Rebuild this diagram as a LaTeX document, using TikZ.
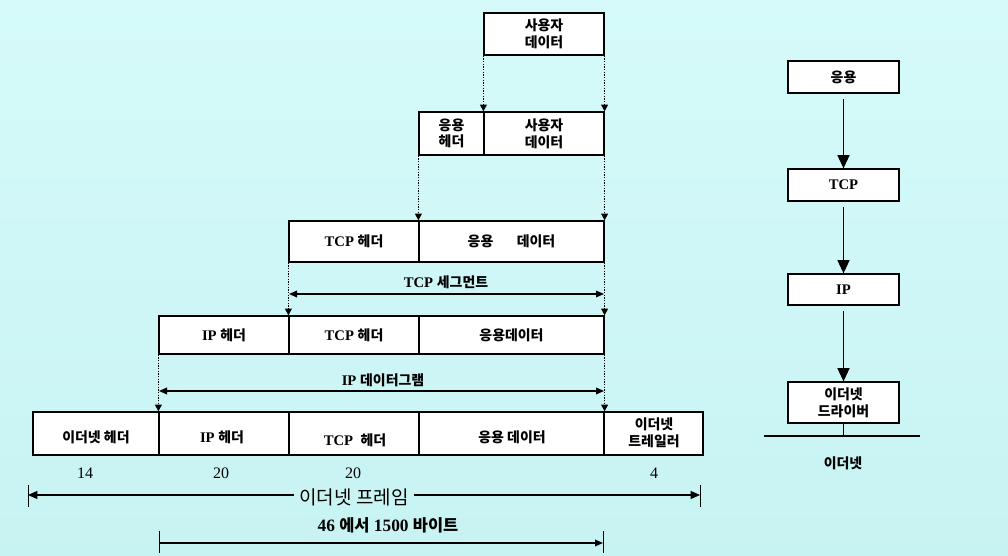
\documentclass[tikz,border=0pt]{standalone}
\usepackage{fontspec}
\setmainfont{Liberation Serif}
\newfontfamily\kr[Scale=0.95]{Noto Sans CJK KR}
\usetikzlibrary{arrows.meta,fit}
\newcommand\KB[1]{{\kr\bfseries #1}}
\newcommand\KR[1]{{\kr\bfseries #1}}
\newcommand\KN[1]{{\kr #1}}
\definecolor{bgtop}{RGB}{214,250,250}
\definecolor{bgbot}{RGB}{200,243,243}
\begin{document}
\begin{tikzpicture}[x=0.75pt,y=-0.75pt,
  cell/.style={draw=black, line width=0.9pt, fill=white, inner sep=0pt},
  dotarrow/.style={dash pattern=on 1pt off 1pt, line width=1pt, -{Triangle[length=5pt,width=5pt]}},
  span/.style={line width=0.9pt, {Triangle[length=6pt,width=5pt]}-{Triangle[length=6pt,width=5pt]}},
  bar/.style={line width=0.6pt},
  stackarrow/.style={line width=1.2pt, -{Triangle[length=10pt,width=9pt]}, shorten <=4pt},
  lbl/.style={inner sep=0pt, font=\fontsize{11}{12.5}\selectfont, align=center}]
\shade[top color=bgtop, bottom color=bgbot] (0,0) rectangle (1008,556);
\useasboundingbox (0,0) rectangle (1008,556);

% Row 1
\node[cell, fit={(484,13) (604,55)}] (r1) {};
\node[lbl] (t1) at (r1.center) {\KB{사용자}\\\KB{데이터}};
% Row 2
\node[cell, fit={(419,112) (484,155)}] (r2a) {};
\node[cell, fit={(484,112) (604,155)}] (r2b) {};
\node[lbl] (t2a) at (r2a.center) {\KB{응용}\\\KB{헤더}};
\node[lbl] (t2b) at (r2b.center) {\KB{사용자}\\\KB{데이터}};
% Row 3
\node[cell, fit={(289,221) (419,262)}] (r3a) {};
\node[cell, fit={(419,221) (604,262)}] (r3b) {};
\node[lbl] (t3a) at (r3a.center) {\textbf{TCP} \KB{헤더}};
\node[lbl] (t3b) at (r3b.center) {\KB{응용}\hspace{1.6em}\KB{데이터}};
% Row 4
\node[cell, fit={(159,316) (289,354)}] (r4a) {};
\node[cell, fit={(289,316) (419,354)}] (r4b) {};
\node[cell, fit={(419,316) (604,354)}] (r4c) {};
\node[lbl] (t4a) at (r4a.center) {\textbf{IP} \KB{헤더}};
\node[lbl] (t4b) at (r4b.center) {\textbf{TCP} \KB{헤더}};
\node[lbl] (t4c) at (r4c.center) {\KB{응용데이터}};
% Row 5
\node[cell, fit={(33,412) (159,455)}] (r5a) {};
\node[cell, fit={(159,412) (289,455)}] (r5b) {};
\node[cell, fit={(289,412) (419,455)}] (r5c) {};
\node[cell, fit={(419,412) (604,455)}] (r5d) {};
\node[cell, fit={(604,412) (703,455)}] (r5e) {};
\node[lbl] (t5a) at (96,437) {\KR{이더넷 헤더}};
\node[lbl] (t5b) at (222,437) {\textbf{IP} \KR{헤더}};
\node[lbl] (t5c) at (355,440) {\textbf{TCP}\hspace{0.5em}\KR{헤더}};
\node[lbl] (t5d) at (512,437) {\KR{응용 데이터}};
\node[lbl] (t5e) at (654,433) {\KR{이더넷}\\\KR{트레일러}};

% dotted connectors
\draw[dotarrow] (r1.south west) -- (r2b.north west);
\draw[dotarrow] (r1.south east) -- (r2b.north east);
\draw[dotarrow] (r2a.south west) -- (r3b.north west);
\draw[dotarrow] (r2b.south east) -- (r3b.north east);
\draw[dotarrow] (r3a.south west) -- (r4b.north west);
\draw[dotarrow] (r3b.south east) -- (r4c.north east);
\draw[dotarrow] (r4a.south west) -- (r5b.north west);
\draw[dotarrow] (r4c.south east) -- (r5d.north east);

% TCP segment
\coordinate (segL) at (289,294);
\coordinate (segR) at (604,294);
\draw[span] (segL) -- (segR);
\node[lbl] (seglbl) at (446,282) {\textbf{TCP} \KB{세그먼트}};
% IP datagram
\coordinate (dgL) at (159,391);
\coordinate (dgR) at (604,391);
\draw[span] (dgL) -- (dgR);
\node[lbl] (dglbl) at (383,380) {\textbf{IP} \KB{데이터그램}};

% sizes
\node[lbl, font=\fontsize{12}{14}\selectfont] (n14) at (85,473) {14};
\node[lbl, font=\fontsize{12}{14}\selectfont] (n20a) at (221,473) {20};
\node[lbl, font=\fontsize{12}{14}\selectfont] (n20b) at (353,473) {20};
\node[lbl, font=\fontsize{12}{14}\selectfont] (n4) at (654,473) {4};

% Ethernet frame
\coordinate (efL) at (28,495);
\coordinate (efR) at (700,495);
\coordinate (efLt) at (28,485);
\coordinate (efLb) at (28,507);
\coordinate (efRt) at (700,485);
\coordinate (efRb) at (700,507);
\coordinate (efM1) at (294,495);
\coordinate (efM2) at (414,495);
\draw[bar] (efLt) -- (efLb);
\draw[bar] (efRt) -- (efRb);
\node[lbl, font=\fontsize{15}{17}\selectfont] (eflbl) at (354,497) {\KN{이더넷 프레임}};
\draw[line width=0.9pt, {Triangle[length=7pt,width=6pt]}-] (efL) -- (efM1);
\draw[line width=0.9pt, -{Triangle[length=7pt,width=6pt]}] (efM2) -- (efR);

% 46 to 1500 bytes
\coordinate (byL) at (159,543);
\coordinate (byR) at (603,543);
\coordinate (byLt) at (159,531);
\coordinate (byLb) at (159,553);
\coordinate (byRt) at (603,531);
\coordinate (byRb) at (603,553);
\draw[bar] (byLt) -- (byLb);
\draw[bar] (byRt) -- (byRb);
\draw[line width=0.9pt, -{Triangle[length=6pt,width=5pt]}] (byL) -- (byR);
\node[lbl, font=\fontsize{13}{15}\selectfont] (bylbl) at (388,525) {\textbf{46} \KB{에서} \textbf{1500} \KB{바이트}};

% Right stack
\node[cell, fit={(788,61) (899,93)}] (app) {};
\node[cell, fit={(788,169) (899,201)}] (tcp) {};
\node[cell, fit={(788,274) (899,305)}] (ip) {};
\node[cell, fit={(788,382) (899,423)}] (drv) {};
\node[lbl] (tapp) at (app.center) {\KB{응용}};
\node[lbl] (ttcp) at (tcp.center) {\textbf{TCP}};
\node[lbl] (tip) at (ip.center) {\textbf{IP}};
\node[lbl] (tdrv) at (drv.center) {\KR{이더넷}\\\KR{드라이버}};
\draw[stackarrow] (app) -- (tcp);
\draw[stackarrow] (tcp) -- (ip);
\draw[stackarrow] (ip) -- (drv);
\coordinate (ethL) at (764,436);
\coordinate (ethR) at (920,436);
\coordinate (ethM) at (843.5,436);
\draw[line width=2.2pt] (ethL) -- (ethR);
\draw[line width=0.9pt] (drv.south) -- (ethM);
\node[lbl] (ethlbl) at (843,463) {\KR{이더넷}};
\end{tikzpicture}
\end{document}
